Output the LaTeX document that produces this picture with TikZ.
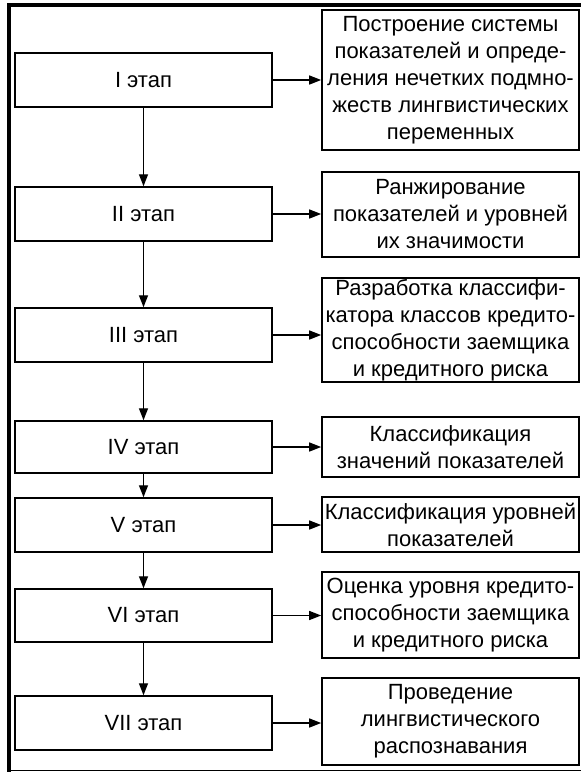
\documentclass[tikz,border=0pt]{standalone}
\usepackage{fontspec}
\setmainfont{Liberation Sans}
\usetikzlibrary{arrows.meta}
\begin{document}
\begin{tikzpicture}[x=1pt,y=-1pt,
  stage/.style={draw,line width=1.5pt,minimum width=257pt,minimum height=54pt,inner sep=0pt,anchor=center,font=\fontsize{22}{27}\selectfont},
  descbox/.style={draw,line width=1.6pt,minimum width=257pt,inner sep=0pt,align=center,anchor=center,font=\fontsize{22}{27}\selectfont},
  arr/.style={line width=1.4pt,-{Triangle[length=12pt,width=9pt]}}]
\useasboundingbox (0,0) rectangle (581,772);
% frame
\draw[line width=3.5pt] (7,5) -- (582,5);
\draw[line width=4pt] (9,3) -- (9,771.5);
\draw[line width=1.5pt] (7,770.5) -- (582,770.5);
% stages
\node[stage] (L1) at (143.5,80) {I этап};
\node[stage] (L2) at (143.5,214) {II этап};
\node[stage] (L3) at (143.5,335) {III этап};
\node[stage,minimum height=52pt] (L4) at (143.5,447) {IV этап};
\node[stage] (L5) at (143.5,525) {V этап};
\node[stage,minimum height=53pt] (L6) at (143.5,615.5) {VI этап};
\node[stage] (L7) at (143.5,723) {VII этап};
% descriptions
\node[descbox,minimum height=140pt] (R1) at (450.5,80) {Построение системы\\показателей и опреде-\\ления нечетких подмно-\\жеств лингвистических\\переменных};
\node[descbox,minimum height=85pt] (R2) at (450.5,214.5) {Ранжирование\\показателей и уровней\\их значимости};
\node[descbox,minimum height=104pt] (R3) at (450.5,330) {Разработка классифи-\\катора классов кредито-\\способности заемщика\\и кредитного риска};
\node[descbox,minimum height=60pt] (R4) at (450.5,447) {Классификация\\значений показателей};
\node[descbox,minimum height=55pt] (R5) at (450.5,524.5) {Классификация уровней\\показателей};
\node[descbox,minimum height=86pt] (R6) at (450.5,615) {Оценка уровня кредито-\\способности заемщика\\и кредитного риска};
\node[descbox,minimum height=87pt] (R7) at (450.5,721.5) {Проведение\\лингвистического\\распознавания};
% vertical arrows
\foreach \a/\b in {L1/L2,L2/L3,L3/L4,L4/L5,L5/L6,L6/L7}
  \draw[arr] (\a.south) -- (\b.north);
% horizontal arrows
\foreach \i in {1,...,7}
  \draw[arr] (L\i.east) -- (L\i.east -| R\i.west);
\end{tikzpicture}
\end{document}
